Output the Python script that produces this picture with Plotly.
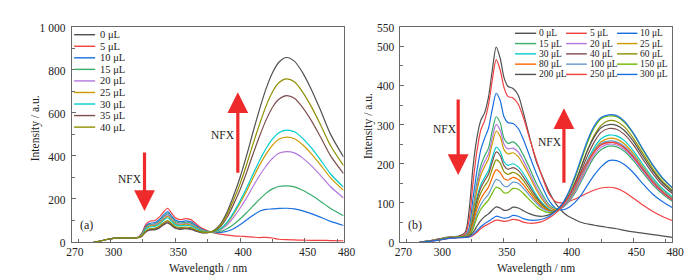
import plotly.graph_objects as go

FONT = "Liberation Serif, Times New Roman, serif"
W, H = 697, 278

# ---------------- data: panel (a) ----------------
WL_A = [287, 292, 297, 302, 307, 312, 317, 321, 324, 327, 330, 334, 338, 341, 344, 347, 350, 354, 358, 362,
        366, 370, 375, 380, 385, 390, 395, 400, 405, 410, 415, 420, 425, 430, 436, 442, 448, 455, 462, 470, 480]
LABELS_A = ["0 μL", "5 μL", "10 μL", "15 μL", "20 μL", "25 μL", "30 μL", "35 μL", "40 μL"]
A_0 = [0, 5, 12, 17, 19, 19, 19, 20, 26, 46, 55, 57, 67, 80, 89, 77, 64, 59, 62, 59, 51, 44, 44,
       55, 85, 140, 215, 300, 400, 510, 615, 710, 785, 835, 857, 840, 790, 710, 615, 500, 395]
A_5 = [0, 5, 12, 17, 19, 19, 19, 22, 40, 80, 97, 100, 118, 140, 157, 135, 113, 104, 109, 104, 85, 66, 52,
       42, 37, 32, 29, 27, 25, 23, 21, 22, 19, 13, 11, 10, 9, 8, 8, 7, 6]
A_10 = [0, 5, 12, 17, 19, 19, 19, 21, 37, 72, 87, 90, 106, 126, 141, 122, 102, 94, 98, 94, 77, 61, 50,
        44, 45, 50, 62, 80, 102, 124, 143, 152, 154, 156, 157, 154, 146, 132, 116, 96, 77]
A_15 = [0, 5, 12, 17, 19, 19, 19, 21, 35, 67, 81, 84, 99, 118, 132, 113, 95, 88, 92, 88, 72, 57, 49,
        45, 50, 62, 82, 107, 136, 167, 198, 226, 247, 258, 261, 256, 242, 218, 190, 156, 122]
A_20 = [0, 5, 12, 17, 19, 19, 19, 21, 33, 64, 78, 80, 94, 112, 126, 108, 90, 83, 87, 83, 69, 55, 48,
        46, 57, 80, 115, 157, 205, 258, 308, 352, 388, 412, 420, 414, 392, 355, 311, 257, 205]
A_25 = [0, 5, 12, 17, 19, 19, 19, 21, 32, 61, 74, 76, 90, 106, 119, 103, 86, 79, 83, 79, 66, 53, 47,
        47, 60, 88, 130, 180, 236, 297, 356, 407, 449, 477, 487, 480, 454, 411, 360, 298, 240]
A_30 = [0, 5, 12, 17, 19, 19, 19, 21, 30, 58, 70, 72, 85, 101, 113, 97, 81, 75, 78, 75, 63, 51, 46,
        48, 62, 92, 137, 190, 250, 315, 378, 433, 478, 508, 520, 512, 484, 438, 383, 316, 255]
A_35 = [0, 5, 12, 17, 19, 19, 19, 20, 27, 48, 58, 60, 71, 84, 94, 81, 68, 62, 65, 62, 53, 45, 44,
        50, 72, 115, 175, 243, 322, 408, 490, 565, 625, 663, 680, 668, 628, 565, 490, 400, 318]
A_40 = [0, 5, 12, 17, 19, 19, 19, 20, 28, 51, 62, 64, 76, 90, 100, 86, 72, 67, 70, 67, 56, 47, 45,
        52, 78, 128, 195, 270, 358, 455, 545, 630, 697, 740, 758, 744, 700, 630, 547, 447, 355]
SERIES_A = [A_0, A_5, A_10, A_15, A_20, A_25, A_30, A_35, A_40]

# ---------------- data: panel (b) ----------------
WL_B = [285, 290, 295, 300, 305, 310, 315, 320, 323, 326, 329, 332, 335, 338, 341, 344, 347, 350, 353, 357,
        361, 365, 370, 375, 380, 385, 390, 395, 400, 405, 410, 415, 420, 425, 431, 437, 443, 450, 457, 465, 472, 480]
LABELS_B = ["0 μL", "5 μL", "10 μL", "15 μL", "20 μL", "25 μL", "30 μL", "40 μL", "60 μL",
            "80 μL", "100 μL", "150 μL", "200 μL", "250 μL", "300 μL"]
B_0 = [0, 2, 5, 8, 12, 14, 15, 25, 80, 190, 265, 310, 330, 370, 440, 498, 470, 420, 398, 392,
       375, 330, 265, 205, 165, 128, 98, 78, 65, 57, 50, 46, 43, 40, 37, 34, 30, 26, 23, 19, 16, 12]
B_5 = [0, 2, 5, 8, 11, 13, 14, 20, 55, 150, 230, 285, 310, 350, 415, 466, 440, 395, 372, 368,
       352, 318, 262, 210, 162, 122, 103, 100, 104, 110, 118, 126, 133, 138, 140, 137, 128, 112, 95, 78, 66, 55]
B_10 = [0, 2, 4, 7, 10, 12, 13, 16, 35, 110, 180, 235, 265, 290, 340, 380, 362, 320, 305, 303,
        290, 262, 218, 175, 138, 105, 86, 82, 88, 102, 122, 148, 172, 192, 208, 208, 198, 177, 150, 122, 104, 88]
B_15 = [0, 2, 4, 7, 10, 12, 13, 15, 28, 85, 150, 195, 220, 240, 285, 320, 305, 265, 252, 256,
        245, 222, 187, 150, 120, 95, 85, 88, 102, 126, 157, 190, 218, 236, 245, 243, 232, 208, 178, 146, 124, 104]
B_20 = [0, 2, 4, 7, 10, 12, 13, 15, 26, 78, 140, 182, 205, 225, 268, 300, 286, 250, 238, 240,
        230, 208, 175, 140, 112, 90, 83, 88, 104, 130, 162, 196, 224, 242, 250, 248, 237, 213, 183, 150, 127, 107]
B_25 = [0, 2, 4, 7, 10, 12, 13, 15, 24, 72, 130, 170, 193, 212, 252, 283, 270, 236, 225, 228,
        218, 197, 166, 133, 107, 88, 82, 89, 107, 135, 170, 206, 236, 256, 265, 263, 251, 226, 194, 159, 134, 113]
B_30 = [0, 2, 4, 7, 10, 12, 13, 15, 22, 62, 112, 146, 165, 182, 216, 242, 232, 205, 196, 200,
        192, 175, 148, 120, 98, 84, 80, 89, 109, 139, 175, 212, 243, 264, 273, 271, 259, 233, 200, 164, 138, 116]
B_40 = [0, 2, 4, 7, 10, 12, 13, 15, 21, 58, 105, 138, 157, 173, 205, 230, 221, 195, 186, 190,
        183, 166, 141, 115, 95, 82, 79, 90, 112, 145, 184, 224, 257, 280, 290, 288, 275, 248, 213, 175, 147, 124]
B_60 = [0, 2, 4, 7, 10, 12, 13, 15, 20, 52, 95, 125, 143, 158, 187, 210, 202, 180, 173, 178,
        172, 157, 133, 110, 92, 81, 79, 91, 116, 152, 195, 238, 274, 298, 310, 308, 294, 265, 228, 187, 157, 132]
B_80 = [0, 2, 4, 7, 10, 12, 13, 15, 18, 45, 84, 110, 126, 140, 165, 185, 178, 162, 158, 165,
        160, 146, 125, 104, 88, 80, 80, 90, 110, 138, 170, 203, 231, 249, 255, 253, 242, 218, 188, 154, 130, 109]
B_100 = [0, 2, 4, 7, 10, 12, 13, 15, 16, 38, 72, 95, 110, 122, 143, 160, 155, 143, 142, 153,
         150, 137, 118, 99, 85, 78, 79, 90, 111, 140, 172, 206, 234, 252, 258, 256, 245, 221, 190, 156, 131, 110]
B_150 = [0, 2, 4, 7, 10, 12, 13, 15, 15, 33, 62, 83, 96, 107, 125, 140, 136, 126, 126, 137,
         135, 124, 107, 91, 80, 75, 78, 95, 125, 165, 212, 258, 294, 315, 322, 320, 306, 276, 237, 195, 164, 138]
B_200 = [0, 1, 3, 6, 9, 11, 12, 13, 15, 24, 40, 55, 65, 72, 82, 90, 87, 81, 82, 89,
         87, 80, 72, 67, 66, 70, 80, 96, 118, 152, 195, 238, 270, 292, 300, 298, 285, 257, 221, 182, 153, 129]
B_250 = [0, 1, 3, 5, 8, 10, 11, 12, 13, 17, 25, 34, 41, 46, 52, 56, 55, 53, 54, 58,
         56, 51, 48, 49, 53, 62, 74, 92, 116, 146, 178, 208, 232, 248, 254, 252, 241, 217, 187, 153, 129, 108]
B_300 = [0, 1, 3, 5, 8, 10, 11, 12, 13, 19, 29, 39, 47, 53, 60, 66, 64, 61, 62, 68,
         66, 60, 56, 56, 59, 66, 79, 98, 128, 170, 218, 264, 298, 318, 325, 323, 309, 278, 239, 197, 166, 139]
SERIES_B = [B_0, B_5, B_10, B_15, B_20, B_25, B_30, B_40, B_60, B_80, B_100, B_150, B_200, B_250, B_300]

PALETTE = ["#515151", "#F14040", "#1A6FDF", "#37AD6B", "#B177DE", "#CC9900", "#00CBCC",
           "#7D4E4E", "#8E8E00", "#FB6501", "#6699CC", "#6FB802"]

X_TICKS = [270, 300, 350, 400, 450, 480]
X_MINOR = [275, 325, 375, 425, 475]
YA_TICKS = [0, 200, 400, 600, 800, 1000]
YA_TEXT = ["0", "200", "400", "600", "800", "1 000"]
YB_TICKS = [0, 100, 200, 300, 400, 500, 550]

# ---------------- geometry ----------------
def px(x):
    return x / W

def py(y):
    return 1 - y / H

AX_L = (59.3, 338.3)
AX_R = (396.7, 675.7)
AX_TOP, AX_BOT = 14.3, 239.4

fig = go.Figure()
for i, (lab, ys) in enumerate(zip(LABELS_A, SERIES_A)):
    fig.add_trace(go.Scatter(x=WL_A, y=ys, mode="lines", name=lab, showlegend=False,
                             line=dict(color=PALETTE[i % 12], width=1.2, shape="spline", smoothing=0.8),
                             xaxis="x", yaxis="y"))
for i, ys in enumerate(SERIES_B):
    fig.add_trace(go.Scatter(x=WL_B, y=ys, mode="lines", name=LABELS_B[i], showlegend=False,
                             line=dict(color=PALETTE[i % 12], width=1.2, shape="spline", smoothing=0.8),
                             xaxis="x2", yaxis="y2"))

TICKFONT = dict(family=FONT, size=11.5, color="#222")
axis_common = dict(showline=True, linecolor="#6a6a6a", linewidth=1, mirror=True, ticks="inside",
                   ticklen=4, tickcolor="#6a6a6a", showgrid=False, zeroline=False, tickfont=TICKFONT)
xcommon = dict(axis_common, range=[270, 480], tickmode="array", tickvals=X_TICKS,
               ticklabelstandoff=-1, ticklabelshift=3,
               minor=dict(tickmode="array", tickvals=X_MINOR, ticks="inside", ticklen=3, tickcolor="#6a6a6a"))
ycommon = dict(axis_common, ticklabelshift=1, ticklabelstandoff=3)
fig.update_layout(
    width=W, height=H, margin=dict(l=0, r=0, t=0, b=0),
    paper_bgcolor="white", plot_bgcolor="white",
    xaxis=dict(xcommon, domain=[px(AX_L[0]), px(AX_L[1])], anchor="y"),
    yaxis=dict(ycommon, domain=[py(AX_BOT), py(AX_TOP)], range=[0, 1000], anchor="x",
               tickmode="array", tickvals=YA_TICKS, ticktext=YA_TEXT,
               minor=dict(dtick=100, ticks="inside", ticklen=3, tickcolor="#6a6a6a")),
    xaxis2=dict(xcommon, domain=[px(AX_R[0]), px(AX_R[1])], anchor="y2"),
    yaxis2=dict(ycommon, domain=[py(AX_BOT), py(AX_TOP)], range=[0, 550], anchor="x2",
                tickmode="array", tickvals=YB_TICKS,
                minor=dict(dtick=50, ticks="inside", ticklen=3, tickcolor="#6a6a6a")),
)

shapes = []
annots = []

def text(xp, yp, s, size=11, angle=0, xanchor="center"):
    annots.append(dict(x=px(xp), y=py(yp), xref="paper", yref="paper", text=s, showarrow=False,
                       xanchor=xanchor, yanchor="middle", textangle=angle,
                       font=dict(family=FONT, size=size, color="#222")))

# legend panel (a)
for i, lab in enumerate(LABELS_A):
    yy = 22.7 + i * 12.07
    shapes.append(dict(type="line", xref="paper", yref="paper", x0=px(61.7), x1=px(83.3),
                       y0=py(yy), y1=py(yy), line=dict(color=PALETTE[i % 12], width=1.4)))
    text(86.5, yy, lab, size=10.5, xanchor="left")

# legend panel (b): 3 columns, row-major order
col_line = [(514.3, 536.0), (566.7, 588.0), (619.0, 640.0)]
col_text = [537.3, 589.3, 641.0]
for i, lab in enumerate(LABELS_B):
    r, c = divmod(i, 3)
    yy = 21.2 + r * 10.75
    shapes.append(dict(type="line", xref="paper", yref="paper", x0=px(col_line[c][0]), x1=px(col_line[c][1]),
                       y0=py(yy), y1=py(yy), line=dict(color=PALETTE[i % 12], width=1.4)))
    text(col_text[c], yy, lab, size=9.5, xanchor="left")

# axis titles
text(22, 120, "Intensity / a.u.", size=11.5, angle=-90)
text(364.5, 118, "Intensity / a.u.", size=11.5, angle=-90)
text(199, 267, "Wavelength / nm", size=11.5)
text(536, 267, "Wavelength / nm", size=11.5)

# panel labels and NFX text
text(74, 221.5, "(a)", size=12)
text(412, 221.5, "(b)", size=12)
text(119, 173, "NFX", size=11.5)
text(215, 127, "NFX", size=11.5)
text(442, 121.5, "NFX", size=11.5)
text(550, 135, "NFX", size=11.5)

RED = "#EE2A2A"
arrows = [
    dict(x=326.2, y=144, xref="x", yref="y", ax=0, ay=-60),
    dict(x=398.3, y=696, xref="x", yref="y", ax=0, ay=82),
    dict(x=314.6, y=171, xref="x2", yref="y2", ax=0, ay=-77),
    dict(x=396.3, y=342, xref="x2", yref="y2", ax=0, ay=76),
]
for a in arrows:
    annots.append(dict(a, text="", showarrow=True, arrowhead=2, arrowsize=1.3, arrowwidth=3.2,
                       arrowcolor=RED, standoff=0, startstandoff=0))

fig.update_layout(shapes=shapes, annotations=annots)
fig.write_html("out.html")
